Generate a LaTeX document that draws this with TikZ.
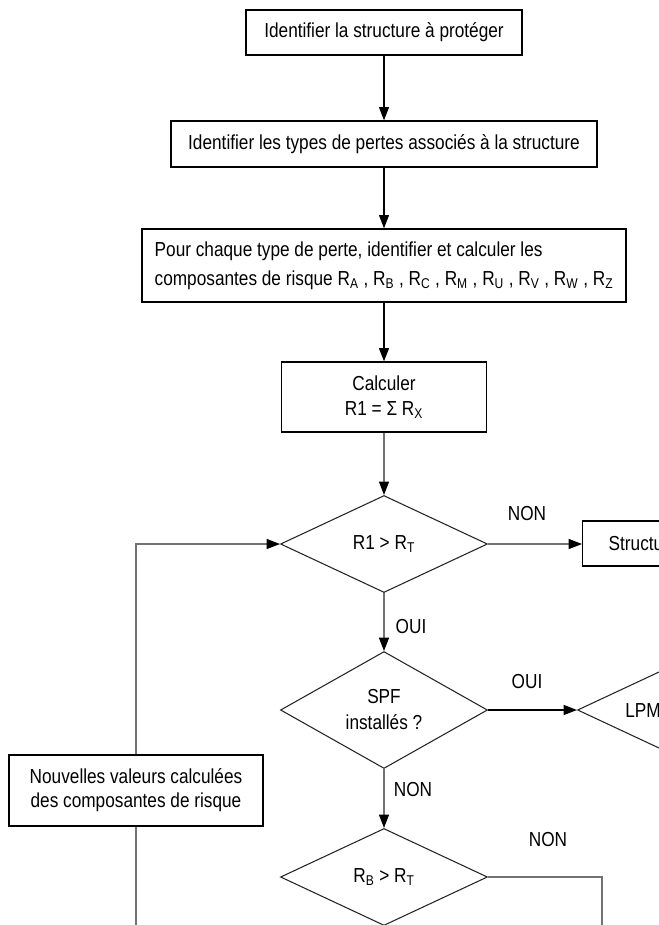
\documentclass[tikz,border=0pt]{standalone}
\usepackage{fontspec}
\setmainfont{Liberation Sans}[FakeStretch=0.85]
\usetikzlibrary{shapes.geometric,arrows.meta}
\newcommand{\idx}[1]{\textsubscript{#1}}

\tikzset{
  txt/.style={font=\fontsize{15.2}{19}\selectfont},
  stepbox/.style={txt, draw=black, line width=1pt, inner sep=0pt, align=center},
  testbox/.style={txt, shape=diamond, draw=black!85, line width=0.8pt, inner sep=0pt, align=center,
    minimum width=155.25pt, minimum height=72.75pt},
  flow/.style={line width=1pt, -{Triangle[length=10pt,width=7.5pt]}},
  thinflow/.style={draw=black!55, line width=0.8pt, -{Triangle[length=10pt,width=7.5pt,color=black]}},
  thinline/.style={draw=black!55, line width=0.8pt},
  answer/.style={txt, inner sep=0pt}
}

\begin{document}
\begin{tikzpicture}[x=0.75pt,y=-0.75pt]
			%%%%% START %%%%%
			
			\useasboundingbox (0,0) rectangle (659,925);
			\clip (0,0) rectangle (659,925);
			\fill[white] (0,0) rectangle (659,925);
			
			\node[stepbox, minimum width=207pt, minimum height=33.75pt] (ident) at (384,32.5) {Identifier la structure à protéger};
			\node[stepbox, minimum width=319.5pt, minimum height=34.5pt] (types) at (384,144) {Identifier les types de pertes associés à la structure};
			\node[stepbox, align=left, minimum width=363pt, minimum height=54.75pt,
			      font=\fontsize{15.2}{21.75}\selectfont] (comps) at (384,265.5)
			      {Pour chaque type de perte, identifier et calculer les\\composantes de risque R\idx{A} , R\idx{B} , R\idx{C} , R\idx{M} , R\idx{U} , R\idx{V} , R\idx{W} , R\idx{Z}};
			\node[stepbox, minimum width=153.75pt, minimum height=52.5pt, font=\fontsize{15.2}{19}\selectfont] (calc) at (384,397) {Calculer\\R1 = Σ R\idx{X}};
			
			\node[testbox] (t1) at (384,544) {R1 > R\idx{T}};
			\node[testbox, font=\fontsize{15.2}{19.5}\selectfont] (spf) at (384,710) {SPF\\installés ?};
			\node[testbox] (rb) at (384,877) {R\idx{B} > R\idx{T}};
			
			\node[stepbox, anchor=west, align=left, inner xsep=19.5pt, text width=120pt, minimum height=33.75pt] (done) at (582,543.5) {Structu};
			\node[testbox] (lpm) at (681,710) {};
			\node[answer, anchor=west] (lpmtxt) at (625,711) {LPM};
			
			\node[stepbox, minimum width=190.5pt, minimum height=53.25pt, font=\fontsize{15.2}{18}\selectfont] (new) at (136,790.5) {Nouvelles valeurs calculées\\des composantes de risque};
			
			\coordinate (loopend) at (136,935);
			\coordinate (rbend) at (602,935);
			
			\draw[flow] (ident) -- (types);
			\draw[flow] (types) -- (comps);
			\draw[flow] (comps) -- (calc);
			\draw[thinflow] (calc) -- (t1);
			\draw[thinflow] (t1.east) -- (t1.east -| done.west);
			\draw[thinflow] (t1) -- (spf);
			\draw[flow] (spf.east) -- (lpm.west);
			\draw[thinflow] (spf) -- (rb);
			\draw[thinline] (rb.east) -| (rbend);
			\draw[thinline] (loopend) -- (new.south);
			\draw[thinflow] (new.north) |- (t1.west);
			
			\node[answer] (non1) at (527,514) {NON};
			\node[answer] (oui1) at (411,627) {OUI};
			\node[answer] (oui2) at (527,682) {OUI};
			\node[answer] (non2) at (413,790) {NON};
			\node[answer] (non3) at (548,840) {NON};
			
			%%%%% END %%%%%
\end{tikzpicture}
\end{document}
